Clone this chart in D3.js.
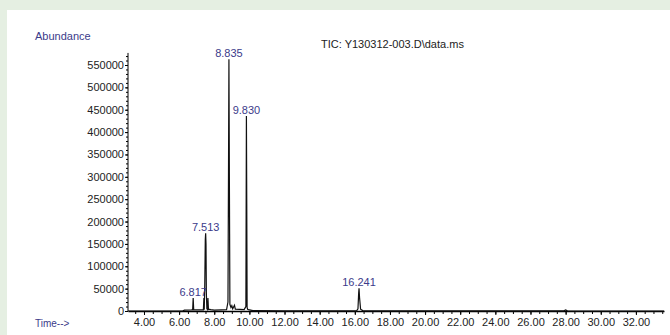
<!DOCTYPE html>
<html>
<head>
<meta charset="utf-8">
<script src="https://cdn.jsdelivr.net/npm/d3@7"></script>
<style>
  body { margin: 0; background: #e5efe2; }
  svg { display: block; font-family: "Liberation Sans", Arial, sans-serif; }
</style>
</head>
<body>
<div id="graph"></div>
<script>
// chromatogram trace (min, abundance)
var times = [3.09, 6.20, 6.30, 6.70, 6.77, 6.80, 6.83, 7.38, 7.41, 7.43, 7.46, 7.49, 7.51, 7.53, 7.55, 7.58, 7.62, 7.64, 7.67, 7.80, 8.00, 8.40, 8.70, 8.78, 8.81, 8.835, 8.86, 8.89, 8.95, 9.00, 9.05, 9.15, 9.20, 9.70, 9.80, 9.83, 9.85, 9.87, 9.90, 9.95, 10.20, 12.00, 16.10, 16.18, 16.22, 16.241, 16.27, 16.33, 16.45, 18.00, 27.90, 28.00, 28.10, 33.6];
var abundance = [0, 0, 2000, 2500, 3000, 29000, 3000, 2500, 29000, 3000, 60000, 160000, 174000, 150000, 40000, 5000, 3000, 29000, 4000, 3000, 2000, 2500, 3000, 20000, 300000, 563000, 300000, 15000, 8000, 12000, 5000, 13000, 4000, 3000, 10000, 436000, 240000, 8000, 4000, 3000, 1000, 500, 500, 5000, 40000, 51000, 30000, 4000, 1000, 500, 500, 2500, 500, 0];

var peakTimes = [6.80, 7.51, 8.835, 9.83, 16.241];
var peakHeights = [29000, 174000, 563000, 436000, 51000];
var peakLabels = ['6.817', '7.513', '8.835', '9.830', '16.241'];

var xTicks = [4, 6, 8, 10, 12, 14, 16, 18, 20, 22, 24, 26, 28, 30, 32];
var yTicks = [0, 50000, 100000, 150000, 200000, 250000, 300000, 350000, 400000, 450000, 500000, 550000];

var width = 670, height = 335;
var labelBlue = '#3b3b8a';

var svg = d3.select('#graph').append('svg')
  .attr('width', width)
  .attr('height', height);

// white panel inside the green frame
svg.append('rect')
  .attr('x', 7).attr('y', 10)
  .attr('width', width - 7).attr('height', height - 10)
  .attr('fill', '#ffffff');

var x = d3.scaleLinear().domain([3.09, 33.6]).range([128, 664]);
var y = d3.scaleLinear().domain([0, 550000]).range([311, 65]);

// minor ticks
svg.append('g')
  .attr('transform', 'translate(0,311)')
  .call(d3.axisBottom(x).tickValues(d3.range(3.5, 33.6, 0.5)).tickSize(3).tickFormat(''))
  .call(g => g.select('.domain').remove());
svg.append('g')
  .attr('transform', 'translate(128,0)')
  .call(d3.axisLeft(y).tickValues(d3.range(0, 580000, 10000)).tickSize(2).tickFormat(''))
  .call(g => g.select('.domain').remove());

var xAxis = svg.append('g')
  .attr('transform', 'translate(0,311)')
  .call(d3.axisBottom(x).tickValues(xTicks).tickSize(4).tickSizeOuter(0).tickPadding(3).tickFormat(d3.format('.2f')));
xAxis.select('.domain').attr('stroke-width', 1.6);
xAxis.selectAll('text').attr('font-size', 11).attr('fill', '#222');

var yAxis = svg.append('g')
  .attr('transform', 'translate(128,0)')
  .call(d3.axisLeft(y).tickValues(yTicks).tickSize(3).tickSizeOuter(0).tickPadding(1).tickFormat(d3.format('d')));
yAxis.select('.domain').attr('d', 'M0,' + y(577000) + 'V' + y(0));
yAxis.selectAll('text').attr('font-size', 11).attr('fill', '#222');

var pts = times.map((t, i) => [t, abundance[i]]);
var line = d3.line().x(d => x(d[0])).y(d => y(d[1]));

svg.append('path')
  .datum(pts)
  .attr('d', line)
  .attr('fill', 'none')
  .attr('stroke', '#111')
  .attr('stroke-width', 1.2);

svg.selectAll('.peak')
  .data(peakTimes)
  .enter().append('text')
  .attr('class', 'peak')
  .attr('x', d => x(d))
  .attr('y', (d, i) => y(peakHeights[i]) - 2)
  .attr('text-anchor', 'middle')
  .attr('font-size', 11)
  .attr('fill', labelBlue)
  .text((d, i) => peakLabels[i]);

svg.append('text')
  .attr('x', 35).attr('y', 40)
  .attr('font-size', 11)
  .attr('fill', labelBlue)
  .text('Abundance');

svg.append('text')
  .attr('x', 321).attr('y', 48)
  .attr('font-size', 11)
  .attr('fill', '#222')
  .text('TIC: Y130312-003.D\\data.ms');

svg.append('text')
  .attr('x', 35).attr('y', 327)
  .attr('font-size', 10)
  .attr('fill', labelBlue)
  .text('Time-->');
</script>
</body>
</html>
